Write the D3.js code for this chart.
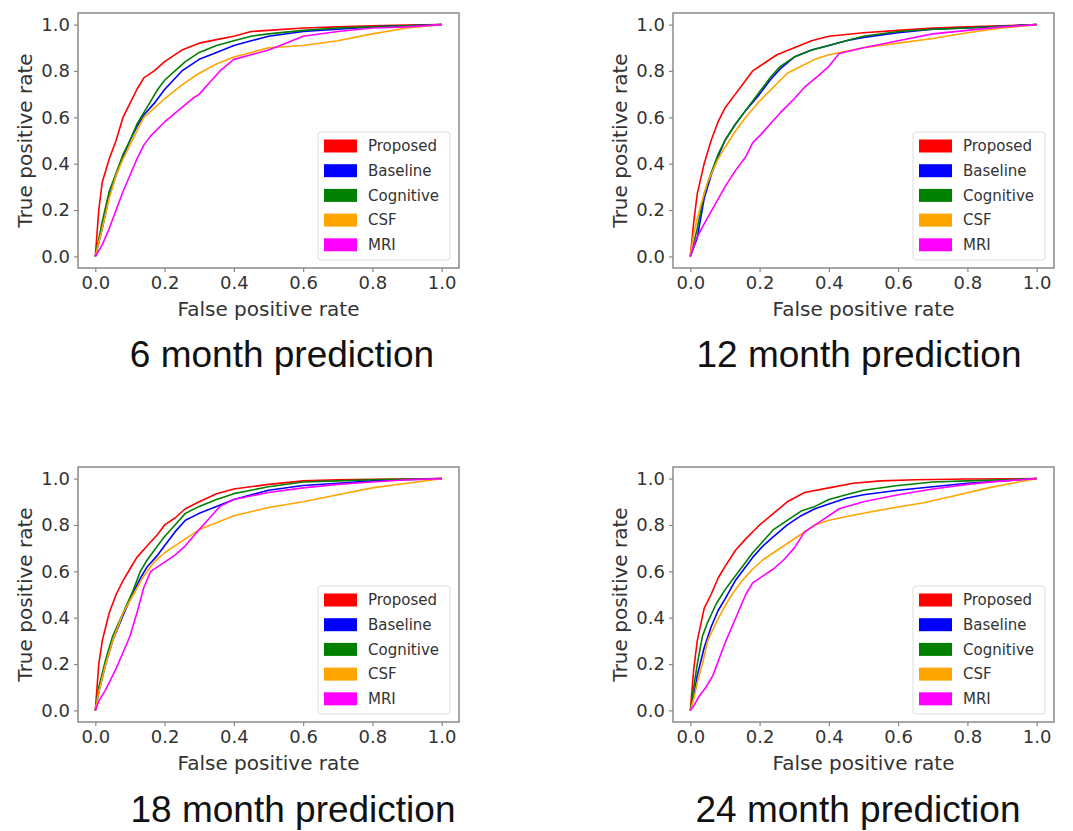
<!DOCTYPE html>
<html>
<head>
<meta charset="utf-8">
<script src="https://cdn.jsdelivr.net/npm/d3@7"></script>
<style>
  body { margin: 0; background: #fff; }
  svg { display: block; }
</style>
</head>
<body>
<div class="container"></div>
<script>
const width = 1073, height = 831;

const models = ["Proposed", "Baseline", "Cognitive", "CSF", "MRI"];
const colors = ["#ff0000", "#0000ff", "#008000", "#ffa500", "#ff00ff"];
const ticks = [0, 0.2, 0.4, 0.6, 0.8, 1.0];
const titles = ["6 month prediction", "12 month prediction", "18 month prediction", "24 month prediction"];

// ROC points [fpr, tpr]
const proposed6 = [[0,0],[0.01,0.2],[0.02,0.32],[0.04,0.42],[0.06,0.5],[0.08,0.6],[0.1,0.66],[0.12,0.72],[0.14,0.77],[0.17,0.8],[0.2,0.84],[0.25,0.89],[0.3,0.92],[0.35,0.935],[0.4,0.95],[0.45,0.97],[0.5,0.975],[0.6,0.985],[0.7,0.99],[0.8,0.995],[0.9,0.998],[1,1]];
const baseline6 = [[0,0],[0.02,0.12],[0.04,0.26],[0.06,0.35],[0.08,0.43],[0.1,0.5],[0.12,0.56],[0.14,0.61],[0.17,0.66],[0.2,0.72],[0.25,0.8],[0.3,0.85],[0.35,0.88],[0.4,0.91],[0.45,0.93],[0.5,0.95],[0.6,0.97],[0.7,0.98],[0.8,0.99],[0.9,0.995],[1,1]];
const cognitive6 = [[0,0],[0.02,0.15],[0.04,0.28],[0.06,0.36],[0.08,0.44],[0.1,0.5],[0.12,0.57],[0.14,0.62],[0.16,0.67],[0.18,0.72],[0.2,0.76],[0.23,0.8],[0.26,0.84],[0.3,0.88],[0.35,0.91],[0.4,0.93],[0.45,0.95],[0.5,0.96],[0.6,0.975],[0.7,0.985],[0.8,0.99],[0.9,0.995],[1,1]];
const csf6 = [[0,0],[0.02,0.12],[0.04,0.25],[0.06,0.35],[0.08,0.42],[0.1,0.48],[0.12,0.54],[0.14,0.6],[0.17,0.64],[0.2,0.68],[0.25,0.74],[0.3,0.79],[0.35,0.83],[0.4,0.86],[0.45,0.88],[0.5,0.9],[0.6,0.91],[0.7,0.93],[0.8,0.96],[0.9,0.985],[1,1]];
const mri6 = [[0,0],[0.02,0.05],[0.04,0.12],[0.06,0.2],[0.08,0.28],[0.1,0.35],[0.12,0.42],[0.14,0.48],[0.16,0.52],[0.2,0.58],[0.24,0.63],[0.28,0.68],[0.3,0.7],[0.33,0.75],[0.36,0.8],[0.4,0.85],[0.45,0.87],[0.5,0.89],[0.55,0.92],[0.6,0.95],[0.7,0.97],[0.8,0.985],[0.9,0.99],[1,1]];

const proposed12 = [[0,0],[0.01,0.15],[0.02,0.27],[0.04,0.4],[0.06,0.5],[0.08,0.58],[0.1,0.64],[0.13,0.7],[0.16,0.76],[0.18,0.8],[0.21,0.83],[0.25,0.87],[0.3,0.9],[0.35,0.93],[0.4,0.95],[0.5,0.965],[0.6,0.975],[0.7,0.985],[0.8,0.99],[0.9,0.995],[1,1]];
const baseline12 = [[0,0],[0.02,0.08],[0.04,0.25],[0.06,0.35],[0.08,0.43],[0.1,0.5],[0.13,0.57],[0.16,0.63],[0.2,0.7],[0.23,0.76],[0.26,0.81],[0.3,0.86],[0.35,0.89],[0.4,0.91],[0.45,0.93],[0.5,0.945],[0.6,0.965],[0.7,0.98],[0.8,0.985],[0.9,0.993],[1,1]];
const cognitive12 = [[0,0],[0.02,0.12],[0.04,0.27],[0.06,0.36],[0.08,0.44],[0.1,0.5],[0.13,0.57],[0.16,0.63],[0.2,0.71],[0.23,0.77],[0.26,0.82],[0.3,0.86],[0.35,0.89],[0.4,0.91],[0.45,0.93],[0.5,0.95],[0.6,0.97],[0.7,0.98],[0.8,0.985],[0.9,0.993],[1,1]];
const csf12 = [[0,0],[0.01,0.1],[0.03,0.22],[0.05,0.32],[0.08,0.42],[0.1,0.47],[0.13,0.54],[0.16,0.6],[0.2,0.67],[0.24,0.73],[0.28,0.79],[0.32,0.82],[0.36,0.85],[0.4,0.87],[0.45,0.885],[0.5,0.9],[0.6,0.92],[0.7,0.94],[0.8,0.965],[0.9,0.985],[1,1]];
const mri12 = [[0,0],[0.015,0.07],[0.04,0.14],[0.07,0.22],[0.1,0.3],[0.13,0.37],[0.16,0.43],[0.18,0.49],[0.2,0.52],[0.23,0.57],[0.26,0.62],[0.3,0.68],[0.33,0.73],[0.37,0.78],[0.4,0.82],[0.43,0.875],[0.5,0.9],[0.6,0.93],[0.7,0.96],[0.8,0.975],[0.9,0.99],[1,1]];

const proposed18 = [[0,0],[0.01,0.2],[0.02,0.3],[0.04,0.42],[0.06,0.5],[0.08,0.56],[0.1,0.61],[0.12,0.66],[0.15,0.71],[0.18,0.76],[0.2,0.8],[0.23,0.83],[0.26,0.87],[0.3,0.9],[0.35,0.935],[0.4,0.955],[0.5,0.975],[0.6,0.99],[0.7,0.995],[0.8,0.997],[1,1]];
const baseline18 = [[0,0],[0.01,0.08],[0.03,0.2],[0.05,0.3],[0.08,0.41],[0.11,0.51],[0.13,0.57],[0.15,0.62],[0.18,0.67],[0.2,0.71],[0.23,0.77],[0.26,0.82],[0.3,0.85],[0.35,0.88],[0.4,0.91],[0.5,0.95],[0.6,0.97],[0.7,0.98],[0.8,0.99],[0.9,0.995],[1,1]];
const cognitive18 = [[0,0],[0.01,0.1],[0.03,0.22],[0.05,0.32],[0.08,0.42],[0.11,0.52],[0.13,0.6],[0.15,0.65],[0.18,0.71],[0.2,0.75],[0.23,0.8],[0.26,0.85],[0.3,0.88],[0.35,0.91],[0.4,0.935],[0.5,0.965],[0.6,0.985],[0.7,0.99],[0.8,0.995],[1,1]];
const csf18 = [[0,0],[0.01,0.08],[0.03,0.2],[0.05,0.3],[0.08,0.42],[0.11,0.5],[0.14,0.58],[0.17,0.64],[0.2,0.68],[0.25,0.73],[0.3,0.78],[0.35,0.81],[0.4,0.84],[0.5,0.875],[0.6,0.9],[0.7,0.93],[0.8,0.96],[0.9,0.98],[1,1]];
const mri18 = [[0,0],[0.01,0.04],[0.03,0.09],[0.06,0.18],[0.08,0.25],[0.1,0.32],[0.12,0.42],[0.14,0.53],[0.16,0.6],[0.2,0.64],[0.23,0.67],[0.26,0.71],[0.3,0.78],[0.33,0.83],[0.36,0.88],[0.4,0.91],[0.5,0.94],[0.6,0.96],[0.7,0.975],[0.8,0.985],[0.9,0.995],[1,1]];

const proposed24 = [[0,0],[0.01,0.18],[0.02,0.3],[0.04,0.44],[0.06,0.5],[0.08,0.57],[0.1,0.62],[0.13,0.69],[0.16,0.74],[0.2,0.8],[0.24,0.85],[0.28,0.9],[0.33,0.94],[0.4,0.96],[0.47,0.98],[0.55,0.99],[0.65,0.995],[0.8,0.998],[1,1]];
const baseline24 = [[0,0],[0.01,0.06],[0.02,0.15],[0.04,0.27],[0.06,0.36],[0.08,0.43],[0.1,0.48],[0.13,0.56],[0.16,0.62],[0.18,0.66],[0.21,0.71],[0.24,0.75],[0.28,0.8],[0.32,0.84],[0.36,0.87],[0.4,0.89],[0.45,0.915],[0.5,0.93],[0.6,0.95],[0.7,0.965],[0.8,0.98],[0.9,0.99],[1,1]];
const cognitive24 = [[0,0],[0.01,0.1],[0.02,0.2],[0.035,0.32],[0.05,0.38],[0.075,0.46],[0.1,0.52],[0.12,0.56],[0.15,0.62],[0.18,0.68],[0.21,0.73],[0.24,0.78],[0.28,0.82],[0.32,0.86],[0.36,0.88],[0.4,0.91],[0.45,0.93],[0.5,0.95],[0.6,0.97],[0.7,0.985],[0.8,0.99],[0.9,0.995],[1,1]];
const csf24 = [[0,0],[0.01,0.05],[0.02,0.12],[0.035,0.2],[0.05,0.3],[0.075,0.38],[0.1,0.45],[0.12,0.5],[0.15,0.56],[0.18,0.61],[0.21,0.65],[0.24,0.68],[0.28,0.72],[0.32,0.76],[0.36,0.8],[0.4,0.82],[0.48,0.845],[0.57,0.87],[0.67,0.895],[0.76,0.925],[0.86,0.96],[0.93,0.98],[1,1]];
const mri24 = [[0,0],[0.01,0.02],[0.025,0.06],[0.045,0.1],[0.065,0.15],[0.08,0.21],[0.1,0.29],[0.12,0.36],[0.14,0.43],[0.16,0.5],[0.18,0.55],[0.21,0.58],[0.24,0.61],[0.27,0.65],[0.3,0.7],[0.33,0.77],[0.38,0.82],[0.43,0.87],[0.5,0.9],[0.6,0.93],[0.7,0.955],[0.8,0.975],[0.9,0.99],[1,1]];

const panels = [
  { left: 78, top: 13, titleX: 282, titleY: 367, curves: [proposed6, baseline6, cognitive6, csf6, mri6] },
  { left: 673, top: 13, titleX: 859, titleY: 367, curves: [proposed12, baseline12, cognitive12, csf12, mri12] },
  { left: 78, top: 467, titleX: 293, titleY: 822, curves: [proposed18, baseline18, cognitive18, csf18, mri18] },
  { left: 673, top: 467, titleX: 858, titleY: 822, curves: [proposed24, baseline24, cognitive24, csf24, mri24] }
];
const boxW = 381, boxH = 255;

const svg = d3.select(".container")
  .append("svg")
  .attr("width", width)
  .attr("height", height);

panels.forEach((p, i) => {
  const x = d3.scaleLinear().domain([-0.05, 1.05]).range([0, boxW]);
  const y = d3.scaleLinear().domain([-0.05, 1.05]).range([boxH, 0]);

  const g = svg.append("g").attr("transform", `translate(${p.left},${p.top})`);

  const line = d3.line().x(d => x(d[0])).y(d => y(d[1]));

  g.selectAll("path.roc")
    .data(p.curves)
    .join("path")
    .attr("class", "roc")
    .attr("d", line)
    .attr("fill", "none")
    .attr("stroke", (d, j) => colors[j])
    .attr("stroke-width", 1.6)
    .attr("stroke-linejoin", "round");

  // axes
  const xAxis = g.append("g")
    .attr("transform", `translate(0,${boxH})`)
    .call(d3.axisBottom(x).tickValues(ticks).tickFormat(d3.format(".1f")).tickSize(4).tickPadding(4));
  const yAxis = g.append("g")
    .call(d3.axisLeft(y).tickValues(ticks).tickFormat(d3.format(".1f")).tickSize(4).tickPadding(4));
  [xAxis, yAxis].forEach(a => {
    a.select(".domain").remove();
    a.selectAll("line").attr("stroke", "#888").attr("stroke-width", 1.2);
    a.selectAll("text")
      .attr("fill", "#333")
      .style("font-family", "DejaVu Sans")
      .style("font-size", "18px");
  });

  g.append("rect")
    .attr("width", boxW)
    .attr("height", boxH)
    .attr("fill", "none")
    .attr("stroke", "#8a8a8a")
    .attr("stroke-width", 1.5);

  g.append("text")
    .attr("x", boxW / 2)
    .attr("y", boxH + 48)
    .attr("text-anchor", "middle")
    .attr("fill", "#333")
    .style("font-family", "DejaVu Sans")
    .style("font-size", "20px")
    .text("False positive rate");

  g.append("text")
    .attr("transform", `translate(-46,${boxH / 2}) rotate(-90)`)
    .attr("text-anchor", "middle")
    .attr("fill", "#333")
    .style("font-family", "DejaVu Sans")
    .style("font-size", "20px")
    .text("True positive rate");

  // legend
  const lg = g.append("g").attr("transform", `translate(${boxW - 141},${boxH - 136})`);
  lg.append("rect")
    .attr("width", 132)
    .attr("height", 128)
    .attr("rx", 3)
    .attr("fill", "#fff")
    .attr("stroke", "#ddd");
  const rows = lg.selectAll("g.row")
    .data(models)
    .join("g")
    .attr("class", "row")
    .attr("transform", (d, j) => `translate(0,${14 + j * 24.7})`);
  rows.append("rect")
    .attr("x", 6)
    .attr("y", -6.5)
    .attr("width", 33)
    .attr("height", 13)
    .attr("fill", (d, j) => colors[j]);
  rows.append("text")
    .attr("x", 50)
    .attr("dy", "0.35em")
    .attr("fill", "#333")
    .style("font-family", "DejaVu Sans")
    .style("font-size", "15px")
    .text(d => d);

  svg.append("text")
    .attr("x", p.titleX)
    .attr("y", p.titleY)
    .attr("text-anchor", "middle")
    .attr("fill", "#111")
    .style("font-family", "Liberation Sans, Arial")
    .style("font-size", "37px")
    .text(titles[i]);
});
</script>
</body>
</html>
